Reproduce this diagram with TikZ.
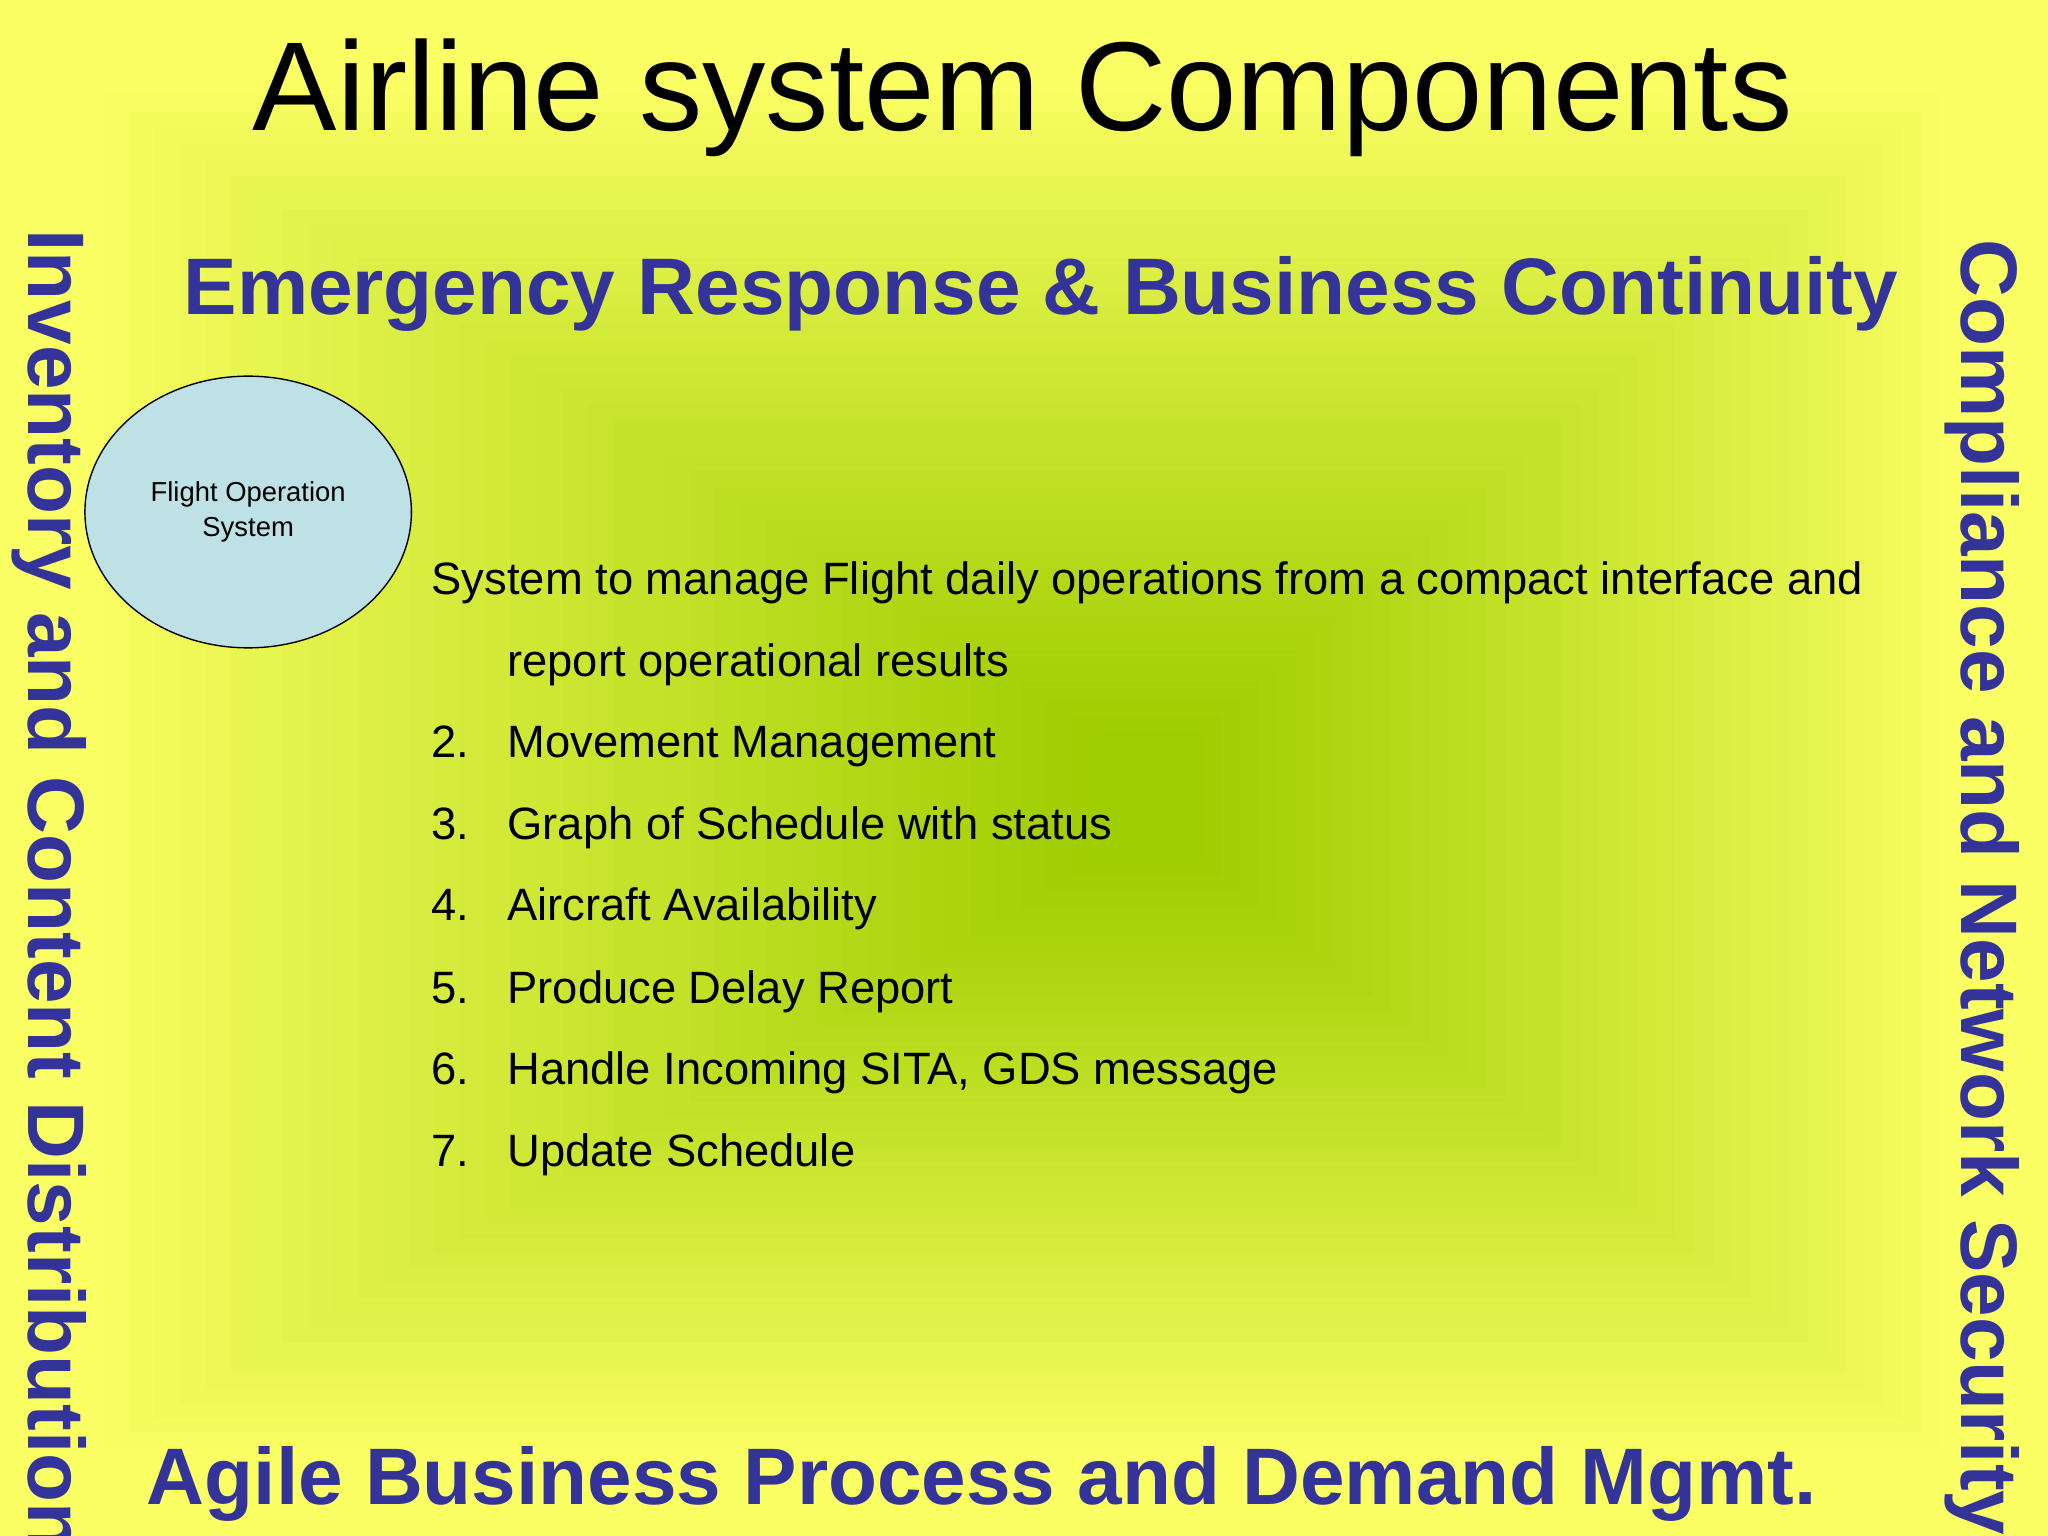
\documentclass[tikz,border=0pt]{standalone}
\usepackage{fontspec}
\usetikzlibrary{shapes.geometric}
\setmainfont{Liberation Sans}
\definecolor{hblue}{RGB}{51,51,153}
\definecolor{yel}{RGB}{250,255,100}
\definecolor{grn}{RGB}{158,205,0}
\definecolor{ellfill}{RGB}{190,225,230}
\begin{document}
\begin{tikzpicture}[x=0.013061cm,y=-0.013061cm,
  heading/.style={font=\fontsize{22.8}{28}\selectfont\bfseries, text=hblue, inner sep=0pt},
  body/.style={font=\fontsize{12.9}{15}\selectfont, anchor=base west, inner sep=0pt}]
\useasboundingbox (0,0) rectangle (1568,1176);
\clip (0,0) rectangle (1568,1176);
\fill[yel] (0,0) rectangle (1568,1176);
\foreach \i in {0,...,40}{
  \pgfmathsetmacro{\p}{100*(\i/40)^0.9}
  \fill[grn!\p!yel] ({60+\i*19.5},{60+\i*12.5}) rectangle ({1500-\i*14.5},{1120-\i*11.5});
}
\node[font=\fontsize{36}{40}\selectfont, anchor=base, inner sep=0pt] (title) at (783,100) {Airline system Components};
\node[heading, anchor=base west] (top) at (140,241) {Emergency Response \& Business Continuity};
\node[heading, anchor=base west] (bottom) at (112,1152) {Agile Business Process and Demand Mgmt.};
\node[heading, anchor=base west, rotate=-90] (left) at (22,175) {Inventory and Content Distribution};
\node[heading, anchor=base west, rotate=-90] (right) at (1502,183) {Compliance and Network Security};
\node[draw, ellipse, fill=ellfill, minimum width=3.265cm, minimum height=2.717cm, inner sep=0pt, align=center, font=\fontsize{7.8}{10}\selectfont] (fos) at (190,392) {Flight Operation\\System};
\node[body] (l1) at (330,455) {System to manage Flight daily operations from a compact interface and};
\node[body] (l1b) at (388,518) {report operational results};
\foreach \n/\t/\y in {2/Movement Management/580, 3/Graph of Schedule with status/643, 4/Aircraft Availability/705, 5/Produce Delay Report/768, 6/{Handle Incoming SITA, GDS message}/830, 7/Update Schedule/893}{
  \node[body] (n\n) at (330,\y) {\n.};
  \node[body] (t\n) at (388,\y) {\t};
}
\end{tikzpicture}
\end{document}
